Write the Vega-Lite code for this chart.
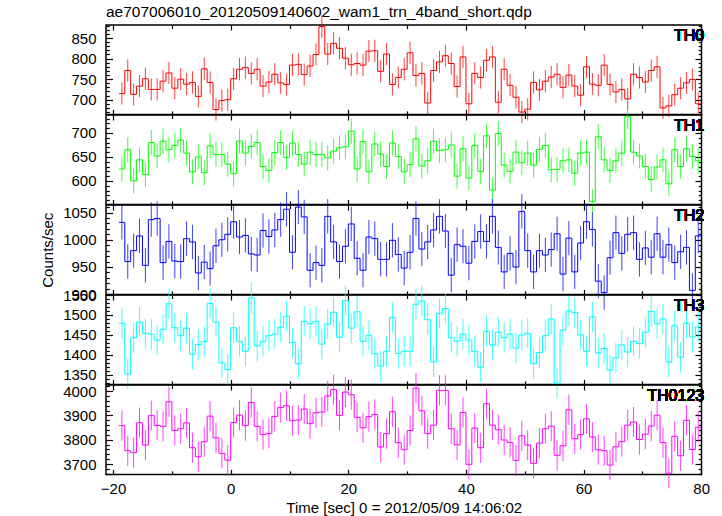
{
"$schema": "https://vega.github.io/schema/vega-lite/v6.json",
"background": "white",
"padding": {"left": 39, "top": 4, "right": 5, "bottom": 4},
"datasets": {
"th0": [{"t":-19,"v":715,"e":0},{"t":-18.5,"v":715,"e":27},{"t":-17.5,"v":771,"e":27},{"t":-16.5,"v":713,"e":27},{"t":-15.5,"v":733,"e":27},{"t":-14.5,"v":751,"e":27},{"t":-13.5,"v":725,"e":27},{"t":-12.5,"v":725,"e":27},{"t":-11.5,"v":745,"e":27},{"t":-10.5,"v":765,"e":27},{"t":-9.5,"v":728,"e":27},{"t":-8.5,"v":750,"e":27},{"t":-7.5,"v":738,"e":27},{"t":-6.5,"v":742,"e":27},{"t":-5.5,"v":708,"e":27},{"t":-4.5,"v":775,"e":27},{"t":-3.5,"v":742,"e":27},{"t":-2.5,"v":676,"e":27},{"t":-1.5,"v":698,"e":27},{"t":-0.5,"v":700,"e":27},{"t":0.5,"v":751,"e":27},{"t":1.5,"v":774,"e":27},{"t":2.5,"v":778,"e":27},{"t":3.5,"v":764,"e":27},{"t":4.5,"v":774,"e":27},{"t":5.5,"v":733,"e":27},{"t":6.5,"v":743,"e":27},{"t":7.5,"v":762,"e":27},{"t":8.5,"v":741,"e":27},{"t":9.5,"v":737,"e":27},{"t":10.5,"v":784,"e":27},{"t":11.5,"v":786,"e":27},{"t":12.5,"v":761,"e":27},{"t":13.5,"v":782,"e":27},{"t":14.5,"v":810,"e":27},{"t":15.5,"v":878,"e":27},{"t":16.5,"v":811,"e":27},{"t":17.5,"v":837,"e":27},{"t":18.5,"v":825,"e":27},{"t":19.5,"v":801,"e":27},{"t":20.5,"v":785,"e":27},{"t":21.5,"v":788,"e":27},{"t":22.5,"v":784,"e":27},{"t":23.5,"v":818,"e":27},{"t":24.5,"v":819,"e":27},{"t":25.5,"v":769,"e":27},{"t":26.5,"v":811,"e":27},{"t":27.5,"v":737,"e":27},{"t":28.5,"v":754,"e":27},{"t":29.5,"v":774,"e":27},{"t":30.5,"v":814,"e":27},{"t":31.5,"v":759,"e":27},{"t":32.5,"v":764,"e":27},{"t":33.5,"v":692,"e":27},{"t":34.5,"v":771,"e":27},{"t":35.5,"v":792,"e":27},{"t":36.5,"v":807,"e":27},{"t":37.5,"v":788,"e":27},{"t":38.5,"v":732,"e":27},{"t":39.5,"v":804,"e":27},{"t":40.5,"v":690,"e":27},{"t":41.5,"v":764,"e":27},{"t":42.5,"v":754,"e":27},{"t":43.5,"v":796,"e":27},{"t":44.5,"v":804,"e":27},{"t":45.5,"v":694,"e":27},{"t":46.5,"v":774,"e":27},{"t":47.5,"v":735,"e":27},{"t":48.5,"v":706,"e":27},{"t":49.5,"v":670,"e":27},{"t":50.5,"v":677,"e":27},{"t":51.5,"v":742,"e":27},{"t":52.5,"v":724,"e":27},{"t":53.5,"v":745,"e":27},{"t":54.5,"v":755,"e":27},{"t":55.5,"v":762,"e":27},{"t":56.5,"v":730,"e":27},{"t":57.5,"v":760,"e":27},{"t":58.5,"v":733,"e":27},{"t":59.5,"v":711,"e":27},{"t":60.5,"v":780,"e":27},{"t":61.5,"v":738,"e":27},{"t":62.5,"v":735,"e":27},{"t":63.5,"v":784,"e":27},{"t":64.5,"v":737,"e":27},{"t":65.5,"v":719,"e":27},{"t":66.5,"v":725,"e":27},{"t":67.5,"v":702,"e":27},{"t":68.5,"v":762,"e":27},{"t":69.5,"v":754,"e":27},{"t":70.5,"v":743,"e":27},{"t":71.5,"v":771,"e":27},{"t":72.5,"v":780,"e":27},{"t":73.5,"v":680,"e":27},{"t":74.5,"v":685,"e":27},{"t":75.5,"v":712,"e":27},{"t":76.5,"v":728,"e":27},{"t":77.5,"v":741,"e":27},{"t":78.5,"v":749,"e":27},{"t":79.5,"v":690,"e":27},{"t":80,"v":690,"e":0}],
"th1": [{"t":-19,"v":625,"e":0},{"t":-18.5,"v":625,"e":26},{"t":-17.5,"v":665,"e":26},{"t":-16.5,"v":600,"e":26},{"t":-15.5,"v":644,"e":26},{"t":-14.5,"v":613,"e":26},{"t":-13.5,"v":680,"e":26},{"t":-12.5,"v":652,"e":26},{"t":-11.5,"v":683,"e":26},{"t":-10.5,"v":665,"e":26},{"t":-9.5,"v":674,"e":26},{"t":-8.5,"v":685,"e":26},{"t":-7.5,"v":658,"e":26},{"t":-6.5,"v":619,"e":26},{"t":-5.5,"v":650,"e":26},{"t":-4.5,"v":617,"e":26},{"t":-3.5,"v":673,"e":26},{"t":-2.5,"v":655,"e":26},{"t":-1.5,"v":655,"e":26},{"t":-0.5,"v":635,"e":26},{"t":0.5,"v":615,"e":26},{"t":1.5,"v":683,"e":26},{"t":2.5,"v":658,"e":26},{"t":3.5,"v":672,"e":26},{"t":4.5,"v":680,"e":26},{"t":5.5,"v":630,"e":26},{"t":6.5,"v":622,"e":26},{"t":7.5,"v":659,"e":26},{"t":8.5,"v":680,"e":26},{"t":9.5,"v":649,"e":26},{"t":10.5,"v":679,"e":26},{"t":11.5,"v":655,"e":26},{"t":12.5,"v":635,"e":26},{"t":13.5,"v":660,"e":26},{"t":14.5,"v":655,"e":26},{"t":15.5,"v":655,"e":26},{"t":16.5,"v":648,"e":26},{"t":17.5,"v":662,"e":26},{"t":18.5,"v":669,"e":26},{"t":19.5,"v":671,"e":26},{"t":20.5,"v":704,"e":26},{"t":21.5,"v":625,"e":26},{"t":22.5,"v":682,"e":26},{"t":23.5,"v":619,"e":26},{"t":24.5,"v":677,"e":26},{"t":25.5,"v":656,"e":26},{"t":26.5,"v":630,"e":26},{"t":27.5,"v":679,"e":26},{"t":28.5,"v":651,"e":26},{"t":29.5,"v":619,"e":26},{"t":30.5,"v":634,"e":26},{"t":31.5,"v":688,"e":26},{"t":32.5,"v":631,"e":26},{"t":33.5,"v":642,"e":26},{"t":34.5,"v":683,"e":26},{"t":35.5,"v":663,"e":26},{"t":36.5,"v":665,"e":26},{"t":37.5,"v":675,"e":26},{"t":38.5,"v":610,"e":26},{"t":39.5,"v":667,"e":26},{"t":40.5,"v":606,"e":26},{"t":41.5,"v":674,"e":26},{"t":42.5,"v":620,"e":26},{"t":43.5,"v":694,"e":26},{"t":44.5,"v":581,"e":26},{"t":45.5,"v":699,"e":26},{"t":46.5,"v":633,"e":26},{"t":47.5,"v":620,"e":26},{"t":48.5,"v":660,"e":26},{"t":49.5,"v":638,"e":26},{"t":50.5,"v":658,"e":26},{"t":51.5,"v":633,"e":26},{"t":52.5,"v":666,"e":26},{"t":53.5,"v":674,"e":26},{"t":54.5,"v":623,"e":26},{"t":55.5,"v":624,"e":26},{"t":56.5,"v":642,"e":26},{"t":57.5,"v":644,"e":26},{"t":58.5,"v":616,"e":26},{"t":59.5,"v":658,"e":26},{"t":60.5,"v":660,"e":26},{"t":61.5,"v":557,"e":26},{"t":62.5,"v":692,"e":26},{"t":63.5,"v":644,"e":26},{"t":64.5,"v":622,"e":26},{"t":65.5,"v":642,"e":26},{"t":66.5,"v":658,"e":26},{"t":67.5,"v":734,"e":26},{"t":68.5,"v":660,"e":26},{"t":69.5,"v":652,"e":26},{"t":70.5,"v":630,"e":26},{"t":71.5,"v":603,"e":26},{"t":72.5,"v":629,"e":26},{"t":73.5,"v":644,"e":26},{"t":74.5,"v":594,"e":26},{"t":75.5,"v":665,"e":26},{"t":76.5,"v":630,"e":26},{"t":77.5,"v":667,"e":26},{"t":78.5,"v":651,"e":26},{"t":79.5,"v":642,"e":26},{"t":80,"v":642,"e":0}],
"th2": [{"t":-19,"v":1032,"e":0},{"t":-18.5,"v":1032,"e":31.5},{"t":-17.5,"v":960,"e":31.5},{"t":-16.5,"v":980,"e":31.5},{"t":-15.5,"v":1007,"e":31.5},{"t":-14.5,"v":953,"e":31.5},{"t":-13.5,"v":1037,"e":31.5},{"t":-12.5,"v":1039,"e":31.5},{"t":-11.5,"v":958,"e":31.5},{"t":-10.5,"v":997,"e":31.5},{"t":-9.5,"v":961,"e":31.5},{"t":-8.5,"v":960,"e":31.5},{"t":-7.5,"v":1002,"e":31.5},{"t":-6.5,"v":996,"e":31.5},{"t":-5.5,"v":939,"e":31.5},{"t":-4.5,"v":959,"e":31.5},{"t":-3.5,"v":947,"e":31.5},{"t":-2.5,"v":989,"e":31.5},{"t":-1.5,"v":1000,"e":31.5},{"t":-0.5,"v":1010,"e":31.5},{"t":0.5,"v":1033,"e":31.5},{"t":1.5,"v":1005,"e":31.5},{"t":2.5,"v":1008,"e":31.5},{"t":3.5,"v":974,"e":31.5},{"t":4.5,"v":972,"e":31.5},{"t":5.5,"v":1017,"e":31.5},{"t":6.5,"v":1006,"e":31.5},{"t":7.5,"v":1018,"e":31.5},{"t":8.5,"v":1037,"e":31.5},{"t":9.5,"v":1056,"e":31.5},{"t":10.5,"v":977,"e":31.5},{"t":11.5,"v":1060,"e":31.5},{"t":12.5,"v":1042,"e":31.5},{"t":13.5,"v":944,"e":31.5},{"t":14.5,"v":958,"e":31.5},{"t":15.5,"v":953,"e":31.5},{"t":16.5,"v":1043,"e":31.5},{"t":17.5,"v":996,"e":31.5},{"t":18.5,"v":960,"e":31.5},{"t":19.5,"v":988,"e":31.5},{"t":20.5,"v":1029,"e":31.5},{"t":21.5,"v":966,"e":31.5},{"t":22.5,"v":944,"e":31.5},{"t":23.5,"v":1005,"e":31.5},{"t":24.5,"v":1002,"e":31.5},{"t":25.5,"v":964,"e":31.5},{"t":26.5,"v":964,"e":31.5},{"t":27.5,"v":999,"e":31.5},{"t":28.5,"v":973,"e":31.5},{"t":29.5,"v":948,"e":31.5},{"t":30.5,"v":977,"e":31.5},{"t":31.5,"v":1039,"e":31.5},{"t":32.5,"v":983,"e":31.5},{"t":33.5,"v":996,"e":31.5},{"t":34.5,"v":1018,"e":31.5},{"t":35.5,"v":1043,"e":31.5},{"t":36.5,"v":1016,"e":31.5},{"t":37.5,"v":935,"e":31.5},{"t":38.5,"v":991,"e":31.5},{"t":39.5,"v":988,"e":31.5},{"t":40.5,"v":957,"e":31.5},{"t":41.5,"v":997,"e":31.5},{"t":42.5,"v":1015,"e":31.5},{"t":43.5,"v":997,"e":31.5},{"t":44.5,"v":1043,"e":31.5},{"t":45.5,"v":986,"e":31.5},{"t":46.5,"v":941,"e":31.5},{"t":47.5,"v":975,"e":31.5},{"t":48.5,"v":950,"e":31.5},{"t":49.5,"v":1052,"e":31.5},{"t":50.5,"v":980,"e":31.5},{"t":51.5,"v":941,"e":31.5},{"t":52.5,"v":980,"e":31.5},{"t":53.5,"v":972,"e":31.5},{"t":54.5,"v":982,"e":31.5},{"t":55.5,"v":1011,"e":31.5},{"t":56.5,"v":937,"e":31.5},{"t":57.5,"v":1003,"e":31.5},{"t":58.5,"v":941,"e":31.5},{"t":59.5,"v":994,"e":31.5},{"t":60.5,"v":1033,"e":31.5},{"t":61.5,"v":1019,"e":31.5},{"t":62.5,"v":924,"e":31.5},{"t":63.5,"v":903,"e":31.5},{"t":64.5,"v":967,"e":31.5},{"t":65.5,"v":1013,"e":31.5},{"t":66.5,"v":975,"e":31.5},{"t":67.5,"v":1010,"e":31.5},{"t":68.5,"v":1013,"e":31.5},{"t":69.5,"v":964,"e":31.5},{"t":70.5,"v":985,"e":31.5},{"t":71.5,"v":968,"e":31.5},{"t":72.5,"v":1011,"e":31.5},{"t":73.5,"v":968,"e":31.5},{"t":74.5,"v":991,"e":31.5},{"t":75.5,"v":958,"e":31.5},{"t":76.5,"v":978,"e":31.5},{"t":77.5,"v":986,"e":31.5},{"t":78.5,"v":907,"e":31.5},{"t":79.5,"v":1007,"e":31.5},{"t":80,"v":1007,"e":0}],
"th3": [{"t":-19,"v":1479,"e":0},{"t":-18.5,"v":1479,"e":38},{"t":-17.5,"v":1352,"e":38},{"t":-16.5,"v":1443,"e":38},{"t":-15.5,"v":1482,"e":38},{"t":-14.5,"v":1454,"e":38},{"t":-13.5,"v":1452,"e":38},{"t":-12.5,"v":1437,"e":38},{"t":-11.5,"v":1464,"e":38},{"t":-10.5,"v":1528,"e":38},{"t":-9.5,"v":1468,"e":38},{"t":-8.5,"v":1448,"e":38},{"t":-7.5,"v":1467,"e":38},{"t":-6.5,"v":1402,"e":38},{"t":-5.5,"v":1426,"e":38},{"t":-4.5,"v":1433,"e":38},{"t":-3.5,"v":1529,"e":38},{"t":-2.5,"v":1482,"e":38},{"t":-1.5,"v":1380,"e":38},{"t":-0.5,"v":1363,"e":38},{"t":0.5,"v":1468,"e":38},{"t":1.5,"v":1434,"e":38},{"t":2.5,"v":1409,"e":38},{"t":3.5,"v":1543,"e":38},{"t":4.5,"v":1422,"e":38},{"t":5.5,"v":1434,"e":38},{"t":6.5,"v":1448,"e":38},{"t":7.5,"v":1452,"e":38},{"t":8.5,"v":1469,"e":38},{"t":9.5,"v":1497,"e":38},{"t":10.5,"v":1431,"e":38},{"t":11.5,"v":1378,"e":38},{"t":12.5,"v":1484,"e":38},{"t":13.5,"v":1478,"e":38},{"t":14.5,"v":1484,"e":38},{"t":15.5,"v":1427,"e":38},{"t":16.5,"v":1477,"e":38},{"t":17.5,"v":1507,"e":38},{"t":18.5,"v":1444,"e":38},{"t":19.5,"v":1536,"e":38},{"t":20.5,"v":1467,"e":38},{"t":21.5,"v":1508,"e":38},{"t":22.5,"v":1434,"e":38},{"t":23.5,"v":1449,"e":38},{"t":24.5,"v":1403,"e":38},{"t":25.5,"v":1372,"e":38},{"t":26.5,"v":1409,"e":38},{"t":27.5,"v":1494,"e":38},{"t":28.5,"v":1403,"e":38},{"t":29.5,"v":1409,"e":38},{"t":30.5,"v":1409,"e":38},{"t":31.5,"v":1527,"e":38},{"t":32.5,"v":1535,"e":38},{"t":33.5,"v":1488,"e":38},{"t":34.5,"v":1382,"e":38},{"t":35.5,"v":1504,"e":38},{"t":36.5,"v":1516,"e":38},{"t":37.5,"v":1443,"e":38},{"t":38.5,"v":1434,"e":38},{"t":39.5,"v":1452,"e":38},{"t":40.5,"v":1437,"e":38},{"t":41.5,"v":1409,"e":38},{"t":42.5,"v":1369,"e":38},{"t":43.5,"v":1459,"e":38},{"t":44.5,"v":1425,"e":38},{"t":45.5,"v":1457,"e":38},{"t":46.5,"v":1443,"e":38},{"t":47.5,"v":1452,"e":38},{"t":48.5,"v":1417,"e":38},{"t":49.5,"v":1450,"e":38},{"t":50.5,"v":1454,"e":38},{"t":51.5,"v":1378,"e":38},{"t":52.5,"v":1406,"e":38},{"t":53.5,"v":1448,"e":38},{"t":54.5,"v":1490,"e":38},{"t":55.5,"v":1329,"e":38},{"t":56.5,"v":1462,"e":38},{"t":57.5,"v":1510,"e":38},{"t":58.5,"v":1506,"e":38},{"t":59.5,"v":1450,"e":38},{"t":60.5,"v":1409,"e":38},{"t":61.5,"v":1495,"e":38},{"t":62.5,"v":1405,"e":38},{"t":63.5,"v":1416,"e":38},{"t":64.5,"v":1362,"e":38},{"t":65.5,"v":1393,"e":38},{"t":66.5,"v":1425,"e":38},{"t":67.5,"v":1407,"e":38},{"t":68.5,"v":1434,"e":38},{"t":69.5,"v":1428,"e":38},{"t":70.5,"v":1457,"e":38},{"t":71.5,"v":1509,"e":38},{"t":72.5,"v":1478,"e":38},{"t":73.5,"v":1490,"e":38},{"t":74.5,"v":1382,"e":38},{"t":75.5,"v":1473,"e":38},{"t":76.5,"v":1394,"e":38},{"t":77.5,"v":1479,"e":38},{"t":78.5,"v":1445,"e":38},{"t":79.5,"v":1470,"e":38},{"t":80,"v":1470,"e":0}],
"th0123": [{"t":-19,"v":3858,"e":0},{"t":-18.5,"v":3858,"e":62},{"t":-17.5,"v":3755,"e":62},{"t":-16.5,"v":3747,"e":62},{"t":-15.5,"v":3870,"e":62},{"t":-14.5,"v":3778,"e":62},{"t":-13.5,"v":3899,"e":62},{"t":-12.5,"v":3859,"e":62},{"t":-11.5,"v":3855,"e":62},{"t":-10.5,"v":3956,"e":62},{"t":-9.5,"v":3838,"e":62},{"t":-8.5,"v":3845,"e":62},{"t":-7.5,"v":3869,"e":62},{"t":-6.5,"v":3767,"e":62},{"t":-5.5,"v":3730,"e":62},{"t":-4.5,"v":3792,"e":62},{"t":-3.5,"v":3897,"e":62},{"t":-2.5,"v":3808,"e":62},{"t":-1.5,"v":3744,"e":62},{"t":-0.5,"v":3716,"e":62},{"t":0.5,"v":3871,"e":62},{"t":1.5,"v":3901,"e":62},{"t":2.5,"v":3858,"e":62},{"t":3.5,"v":3953,"e":62},{"t":4.5,"v":3855,"e":62},{"t":5.5,"v":3821,"e":62},{"t":6.5,"v":3826,"e":62},{"t":7.5,"v":3896,"e":62},{"t":8.5,"v":3932,"e":62},{"t":9.5,"v":3940,"e":62},{"t":10.5,"v":3878,"e":62},{"t":11.5,"v":3881,"e":62},{"t":12.5,"v":3926,"e":62},{"t":13.5,"v":3866,"e":62},{"t":14.5,"v":3911,"e":62},{"t":15.5,"v":3914,"e":62},{"t":16.5,"v":3980,"e":62},{"t":17.5,"v":4006,"e":62},{"t":18.5,"v":3900,"e":62},{"t":19.5,"v":3996,"e":62},{"t":20.5,"v":3985,"e":62},{"t":21.5,"v":3892,"e":62},{"t":22.5,"v":3849,"e":62},{"t":23.5,"v":3895,"e":62},{"t":24.5,"v":3904,"e":62},{"t":25.5,"v":3770,"e":62},{"t":26.5,"v":3825,"e":62},{"t":27.5,"v":3915,"e":62},{"t":28.5,"v":3788,"e":62},{"t":29.5,"v":3759,"e":62},{"t":30.5,"v":3838,"e":62},{"t":31.5,"v":4012,"e":62},{"t":32.5,"v":3919,"e":62},{"t":33.5,"v":3825,"e":62},{"t":34.5,"v":3860,"e":62},{"t":35.5,"v":4003,"e":62},{"t":36.5,"v":4003,"e":62},{"t":37.5,"v":3845,"e":62},{"t":38.5,"v":3779,"e":62},{"t":39.5,"v":3912,"e":62},{"t":40.5,"v":3699,"e":62},{"t":41.5,"v":3848,"e":62},{"t":42.5,"v":3767,"e":62},{"t":43.5,"v":3948,"e":62},{"t":44.5,"v":3860,"e":62},{"t":45.5,"v":3841,"e":62},{"t":46.5,"v":3799,"e":62},{"t":47.5,"v":3789,"e":62},{"t":48.5,"v":3715,"e":62},{"t":49.5,"v":3816,"e":62},{"t":50.5,"v":3778,"e":62},{"t":51.5,"v":3703,"e":62},{"t":52.5,"v":3786,"e":62},{"t":53.5,"v":3845,"e":62},{"t":54.5,"v":3856,"e":62},{"t":55.5,"v":3736,"e":62},{"t":56.5,"v":3775,"e":62},{"t":57.5,"v":3923,"e":62},{"t":58.5,"v":3804,"e":62},{"t":59.5,"v":3821,"e":62},{"t":60.5,"v":3886,"e":62},{"t":61.5,"v":3811,"e":62},{"t":62.5,"v":3759,"e":62},{"t":63.5,"v":3755,"e":62},{"t":64.5,"v":3696,"e":62},{"t":65.5,"v":3771,"e":62},{"t":66.5,"v":3792,"e":62},{"t":67.5,"v":3860,"e":62},{"t":68.5,"v":3873,"e":62},{"t":69.5,"v":3801,"e":62},{"t":70.5,"v":3823,"e":62},{"t":71.5,"v":3856,"e":62},{"t":72.5,"v":3901,"e":62},{"t":73.5,"v":3788,"e":62},{"t":74.5,"v":3662,"e":62},{"t":75.5,"v":3814,"e":62},{"t":76.5,"v":3734,"e":62},{"t":77.5,"v":3880,"e":62},{"t":78.5,"v":3760,"e":62},{"t":79.5,"v":3851,"e":62},{"t":80,"v":3851,"e":0}]
},
"spacing": 0,
"bounds": "flush",
"vconcat": [
{
 "data": {"name": "th0"}, "width": 595.5, "height": 89.4,
 "title": {"text": "ae707006010_20120509140602_wam1_trn_4band_short.qdp", "anchor": "start", "frame": "group", "fontSize": 15.5, "font": "Liberation Sans", "fontWeight": "normal", "baseline": "alphabetic", "offset": -18, "color": "#000000"},
 "layer": [
  {"mark": {"type": "line", "interpolate": "step", "color": "#ff0000", "strokeWidth": 1},
   "encoding": {
    "x": {"field": "t", "type": "quantitative", "scale": {"domain": [-21.2, 80.05], "nice": false, "zero": false},
      "axis": {"orient": "bottom", "values": [-20,-10,0,10,20,30,40,50,60,70,80], "labels": false, "title": null, "tickSize": {"condition": {"test": "datum.value % 20 === 0", "value": -5}, "value": -3.5}}},
    "y": {"field": "v", "type": "quantitative", "scale": {"domain": [664.3, 881.6], "nice": false, "zero": false},
      "axis": {"orient": "left", "values": [670,680,690,700,710,720,730,740,750,760,770,780,790,800,810,820,830,840,850,860,870,880], "format": "d", "labelExpr": "datum.value % 50 === 0 ? datum.label : ''", "labelPadding": 16.5, "title": null, "tickSize": {"condition": {"test": "datum.value % 50 === 0", "value": -6.5}, "value": -3.3}}}
   }},
  {"mark": {"type": "errorbar", "color": "#ff0000", "thickness": 1, "opacity": 0.75},
   "encoding": {
    "x": {"field": "t", "type": "quantitative", "axis": {"orient": "top", "values": [-20,-10,0,10,20,30,40,50,60,70,80], "labels": false, "title": null, "tickSize": {"condition": {"test": "datum.value % 20 === 0", "value": -5}, "value": -3.5}}},
    "y": {"field": "v", "type": "quantitative", "axis": {"orient": "right", "values": [670,680,690,700,710,720,730,740,750,760,770,780,790,800,810,820,830,840,850,860,870,880], "labels": false, "title": null, "tickSize": {"condition": {"test": "datum.value % 50 === 0", "value": -6.5}, "value": -3.3}}},
    "yError": {"field": "e"}
   }},
  {"mark": {"type": "text", "text": "TH0", "align": "right", "baseline": "top", "fontSize": 16, "fontWeight": "normal", "dx": 3, "dy": 3, "font": "Liberation Sans", "color": "#000000"},
   "encoding": {"x": {"datum": 80, "type": "quantitative", "axis": null}, "y": {"datum": 881.6, "type": "quantitative", "axis": null}}}
 ],
 "resolve": {"axis": {"x": "independent", "y": "independent"}}
},
{
 "data": {"name": "th1"}, "width": 595.5, "height": 89.4,
 "layer": [
  {"mark": {"type": "line", "interpolate": "step", "color": "#00ff00", "strokeWidth": 1},
   "encoding": {
    "x": {"field": "t", "type": "quantitative", "scale": {"domain": [-21.2, 80.05], "nice": false, "zero": false},
      "axis": {"orient": "bottom", "values": [-20,-10,0,10,20,30,40,50,60,70,80], "labels": false, "title": null, "tickSize": {"condition": {"test": "datum.value % 20 === 0", "value": -5}, "value": -3.5}}},
    "y": {"field": "v", "type": "quantitative", "scale": {"domain": [551.1, 737.4], "nice": false, "zero": false},
      "axis": {"orient": "left", "values": [560,570,580,590,600,610,620,630,640,650,660,670,680,690,700,710,720,730], "format": "d", "labelExpr": "datum.value % 50 === 0 ? datum.label : ''", "labelPadding": 16.5, "title": null, "tickSize": {"condition": {"test": "datum.value % 50 === 0", "value": -6.5}, "value": -3.3}}}
   }},
  {"mark": {"type": "errorbar", "color": "#00ff00", "thickness": 1, "opacity": 0.75},
   "encoding": {
    "x": {"field": "t", "type": "quantitative", "axis": {"orient": "top", "values": [-20,-10,0,10,20,30,40,50,60,70,80], "labels": false, "title": null, "tickSize": {"condition": {"test": "datum.value % 20 === 0", "value": -5}, "value": -3.5}}},
    "y": {"field": "v", "type": "quantitative", "axis": {"orient": "right", "values": [560,570,580,590,600,610,620,630,640,650,660,670,680,690,700,710,720,730], "labels": false, "title": null, "tickSize": {"condition": {"test": "datum.value % 50 === 0", "value": -6.5}, "value": -3.3}}},
    "yError": {"field": "e"}
   }},
  {"mark": {"type": "text", "text": "TH1", "align": "right", "baseline": "top", "fontSize": 16, "fontWeight": "normal", "dx": 3, "dy": 3, "font": "Liberation Sans", "color": "#000000"},
   "encoding": {"x": {"datum": 80, "type": "quantitative", "axis": null}, "y": {"datum": 737.4, "type": "quantitative", "axis": null}}}
 ],
 "resolve": {"axis": {"x": "independent", "y": "independent"}}
},
{
 "data": {"name": "th2"}, "width": 595.5, "height": 89.4,
 "layer": [
  {"mark": {"type": "line", "interpolate": "step", "color": "#0000ff", "strokeWidth": 1},
   "encoding": {
    "x": {"field": "t", "type": "quantitative", "scale": {"domain": [-21.2, 80.05], "nice": false, "zero": false},
      "axis": {"orient": "bottom", "values": [-20,-10,0,10,20,30,40,50,60,70,80], "labels": false, "title": null, "tickSize": {"condition": {"test": "datum.value % 20 === 0", "value": -5}, "value": -3.5}}},
    "y": {"field": "v", "type": "quantitative", "scale": {"domain": [899.7, 1063.8], "nice": false, "zero": false},
      "axis": {"orient": "left", "values": [900,910,920,930,940,950,960,970,980,990,1000,1010,1020,1030,1040,1050,1060], "format": "d", "labelExpr": "datum.value % 50 === 0 ? datum.label : ''", "labelPadding": 16.5, "title": "Counts/sec", "titlePadding": 7, "tickSize": {"condition": {"test": "datum.value % 50 === 0", "value": -6.5}, "value": -3.3}}}
   }},
  {"mark": {"type": "errorbar", "color": "#0000ff", "thickness": 1, "opacity": 0.75},
   "encoding": {
    "x": {"field": "t", "type": "quantitative", "axis": {"orient": "top", "values": [-20,-10,0,10,20,30,40,50,60,70,80], "labels": false, "title": null, "tickSize": {"condition": {"test": "datum.value % 20 === 0", "value": -5}, "value": -3.5}}},
    "y": {"field": "v", "type": "quantitative", "axis": {"orient": "right", "values": [900,910,920,930,940,950,960,970,980,990,1000,1010,1020,1030,1040,1050,1060], "labels": false, "title": null, "tickSize": {"condition": {"test": "datum.value % 50 === 0", "value": -6.5}, "value": -3.3}}},
    "yError": {"field": "e"}
   }},
  {"mark": {"type": "text", "text": "TH2", "align": "right", "baseline": "top", "fontSize": 16, "fontWeight": "normal", "dx": 3, "dy": 3, "font": "Liberation Sans", "color": "#000000"},
   "encoding": {"x": {"datum": 80, "type": "quantitative", "axis": null}, "y": {"datum": 1063.8, "type": "quantitative", "axis": null}}}
 ],
 "resolve": {"axis": {"x": "independent", "y": "independent"}}
},
{
 "data": {"name": "th3"}, "width": 595.5, "height": 89.4,
 "layer": [
  {"mark": {"type": "line", "interpolate": "step", "color": "#00ffff", "strokeWidth": 1},
   "encoding": {
    "x": {"field": "t", "type": "quantitative", "scale": {"domain": [-21.2, 80.05], "nice": false, "zero": false},
      "axis": {"orient": "bottom", "values": [-20,-10,0,10,20,30,40,50,60,70,80], "labels": false, "title": null, "tickSize": {"condition": {"test": "datum.value % 20 === 0", "value": -5}, "value": -3.5}}},
    "y": {"field": "v", "type": "quantitative", "scale": {"domain": [1326, 1550], "nice": false, "zero": false},
      "axis": {"orient": "left", "values": [1330,1340,1350,1360,1370,1380,1390,1400,1410,1420,1430,1440,1450,1460,1470,1480,1490,1500,1510,1520,1530,1540,1550], "format": "d", "labelExpr": "datum.value % 50 === 0 ? datum.label : ''", "labelPadding": 16.5, "title": null, "tickSize": {"condition": {"test": "datum.value % 50 === 0", "value": -6.5}, "value": -3.3}}}
   }},
  {"mark": {"type": "errorbar", "color": "#00ffff", "thickness": 1, "opacity": 0.75},
   "encoding": {
    "x": {"field": "t", "type": "quantitative", "axis": {"orient": "top", "values": [-20,-10,0,10,20,30,40,50,60,70,80], "labels": false, "title": null, "tickSize": {"condition": {"test": "datum.value % 20 === 0", "value": -5}, "value": -3.5}}},
    "y": {"field": "v", "type": "quantitative", "axis": {"orient": "right", "values": [1330,1340,1350,1360,1370,1380,1390,1400,1410,1420,1430,1440,1450,1460,1470,1480,1490,1500,1510,1520,1530,1540,1550], "labels": false, "title": null, "tickSize": {"condition": {"test": "datum.value % 50 === 0", "value": -6.5}, "value": -3.3}}},
    "yError": {"field": "e"}
   }},
  {"mark": {"type": "text", "text": "TH3", "align": "right", "baseline": "top", "fontSize": 16, "fontWeight": "normal", "dx": 3, "dy": 3, "font": "Liberation Sans", "color": "#000000"},
   "encoding": {"x": {"datum": 80, "type": "quantitative", "axis": null}, "y": {"datum": 1550, "type": "quantitative", "axis": null}}}
 ],
 "resolve": {"axis": {"x": "independent", "y": "independent"}}
},
{
 "data": {"name": "th0123"}, "width": 595.5, "height": 89.4,
 "layer": [
  {"mark": {"type": "line", "interpolate": "step", "color": "#ff00ff", "strokeWidth": 1},
   "encoding": {
    "x": {"field": "t", "type": "quantitative", "scale": {"domain": [-21.2, 80.05], "nice": false, "zero": false},
      "axis": {"orient": "bottom", "values": [-20,-10,0,10,20,30,40,50,60,70,80], "format": "d", "labelExpr": "datum.value % 20 === 0 ? datum.label : ''", "labelPadding": 12, "title": "Time [sec] 0 = 2012/05/09 14:06:02", "titlePadding": 3, "tickSize": {"condition": {"test": "datum.value % 20 === 0", "value": -5}, "value": -3.5}}},
    "y": {"field": "v", "type": "quantitative", "scale": {"domain": [3657.5, 4025], "nice": false, "zero": false},
      "axis": {"orient": "left", "values": [3660,3680,3700,3720,3740,3760,3780,3800,3820,3840,3860,3880,3900,3920,3940,3960,3980,4000,4020], "format": "d", "labelExpr": "datum.value % 100 === 0 ? datum.label : ''", "labelPadding": 16.5, "title": null, "tickSize": {"condition": {"test": "datum.value % 100 === 0", "value": -6.5}, "value": -3.3}}}
   }},
  {"mark": {"type": "errorbar", "color": "#ff00ff", "thickness": 1, "opacity": 0.75},
   "encoding": {
    "x": {"field": "t", "type": "quantitative", "axis": {"orient": "top", "values": [-20,-10,0,10,20,30,40,50,60,70,80], "labels": false, "title": null, "tickSize": {"condition": {"test": "datum.value % 20 === 0", "value": -5}, "value": -3.5}}},
    "y": {"field": "v", "type": "quantitative", "axis": {"orient": "right", "values": [3660,3680,3700,3720,3740,3760,3780,3800,3820,3840,3860,3880,3900,3920,3940,3960,3980,4000,4020], "labels": false, "title": null, "tickSize": {"condition": {"test": "datum.value % 100 === 0", "value": -6.5}, "value": -3.3}}},
    "yError": {"field": "e"}
   }},
  {"mark": {"type": "text", "text": "TH0123", "align": "right", "baseline": "top", "fontSize": 16, "fontWeight": "normal", "dx": 3, "dy": 3, "font": "Liberation Sans", "color": "#000000"},
   "encoding": {"x": {"datum": 80, "type": "quantitative", "axis": null}, "y": {"datum": 4025, "type": "quantitative", "axis": null}}}
 ],
 "resolve": {"axis": {"x": "independent", "y": "independent"}}
}
],
"config": {
 "view": {"stroke": "#000000", "strokeWidth": 1.5},
 "axis": {"domain": false, "grid": false, "labelFont": "Liberation Sans", "labelFontSize": 15, "labelColor": "#000000", "tickColor": "#000000", "tickWidth": 1.2, "titleFont": "Liberation Sans", "titleFontSize": 15, "titleFontWeight": "normal", "titleColor": "#000000", "labelOverlap": false, "labelFlush": false, "labelBound": false},
 "text": {"font": "Liberation Sans", "color": "#000000"}
}
}
